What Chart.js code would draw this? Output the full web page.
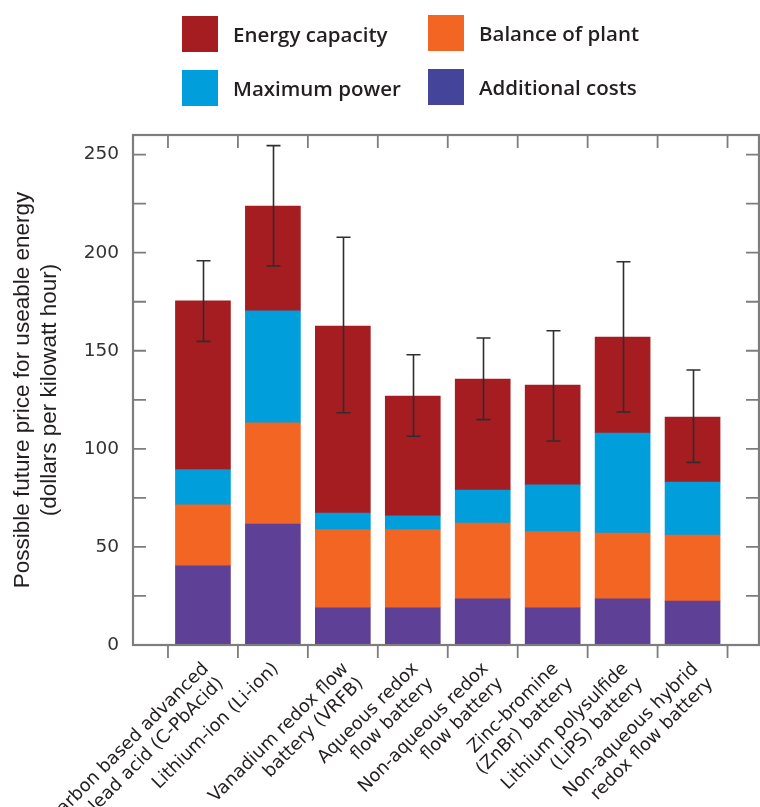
<!DOCTYPE html>
<html lang="en">
<head>
<meta charset="UTF-8" />
<title>Possible future battery prices</title>
<script src="https://cdn.jsdelivr.net/npm/chart.js"></script>
<style>
  body { margin: 0; background: #fff; }
  .wrap { position: relative; width: 760px; height: 807px; }
  canvas { position: absolute; left: 0; top: 0; }
  .legend { position: absolute; left: 0; top: 0; font-family: 'Open Sans', sans-serif; font-weight: 600; font-size: 20.5px; color: #231f20; }
  .item { position: absolute; display: flex; align-items: center; white-space: nowrap; }
  .swatch { width: 36px; height: 36px; margin-right: 15px; }
</style>
</head>
<body>
<div class="wrap">
  <canvas id="priceChart" width="760" height="807"></canvas>
  <div class="legend" id="legend"></div>
</div>

<script>
  // categories (x axis), one array of lines per bar
  const categories = [
    ['Carbon based advanced', 'lead acid (C-PbAcid)'],
    'Lithium-ion (Li-ion)',
    ['Vanadium redox flow', 'battery (VRFB)'],
    ['Aqueous redox', 'flow battery'],
    ['Non-aqueous redox', 'flow battery'],
    ['Zinc-bromine', '(ZnBr) battery'],
    ['Lithium polysulfide', '(LiPS) battery'],
    ['Non-aqueous hybrid', 'redox flow battery']
  ];

  // stacked segments, bottom to top ($ per kWh)
  const additionalCosts = [40.4, 61.7, 18.9, 18.9, 23.5, 18.9, 23.5, 22.4];
  const balanceOfPlant  = [31.0, 51.5, 39.9, 39.9, 38.7, 38.9, 33.6, 33.7];
  const maximumPower    = [18.0, 57.1,  8.5,  7.0, 16.8, 23.8, 51.0, 27.0];
  const energyCapacity  = [86.0, 53.5, 95.3, 61.1, 56.6, 50.9, 48.9, 33.1];

  // error bar range (absolute values)
  const errorLow  = [154.8, 193.2, 118.4, 106.4, 114.9, 104.0, 118.8, 93.1];
  const errorHigh = [195.9, 254.6, 207.9, 148.0, 156.5, 160.2, 195.4, 140.2];

  const yLabelTicks = [0, 50, 100, 150, 200, 250];

  const seriesNames = ['Additional costs', 'Balance of plant', 'Maximum power', 'Energy capacity'];
  const seriesColors = ['#5e4097', '#f26522', '#009edb', '#a51c21'];
  const legendColors = ['#43449a', '#f26522', '#009edb', '#a51c21'];

  // legend is laid out 2x2 like the original
  const legendSlots = [
    { idx: 3, left: 182, top: 16 },
    { idx: 1, left: 428, top: 15 },
    { idx: 2, left: 182, top: 70 },
    { idx: 0, left: 428, top: 69 }
  ];
  const legendEl = document.getElementById('legend');
  legendSlots.forEach(s => {
    const d = document.createElement('div');
    d.className = 'item';
    d.style.left = s.left + 'px';
    d.style.top = s.top + 'px';
    d.innerHTML = '<span class="swatch" style="background:' + legendColors[s.idx] + '"></span><span>' + seriesNames[s.idx] + '</span>';
    legendEl.appendChild(d);
  });

  const toPoints = arr => arr.map((v, i) => ({ x: i, y: v }));
  const allSeries = [additionalCosts, balanceOfPlant, maximumPower, energyCapacity];

  const frameColor = '#7d7d7d';

  // frame box, inward ticks, error bars and the slanted category labels
  const framePlugin = {
    id: 'frame',
    afterDatasetsDraw(chart) {
      const { ctx, chartArea: a, scales: { x, y } } = chart;
      ctx.save();

      // error bars
      ctx.strokeStyle = '#2e2e2e';
      ctx.lineWidth = 1.6;
      errorLow.forEach((lo, i) => {
        const px = Math.round(x.getPixelForValue(i)) + 0.5;
        const yLo = y.getPixelForValue(lo);
        const yHi = y.getPixelForValue(errorHigh[i]);
        ctx.beginPath();
        ctx.moveTo(px, yLo); ctx.lineTo(px, yHi);
        ctx.moveTo(px - 7, yLo); ctx.lineTo(px + 7, yLo);
        ctx.moveTo(px - 7, yHi); ctx.lineTo(px + 7, yHi);
        ctx.stroke();
      });

      // ticks
      ctx.strokeStyle = frameColor;
      ctx.lineWidth = 1.8;
      ctx.beginPath();
      y.ticks.forEach(t => {
        if (t.value === 0) return;
        const py = y.getPixelForValue(t.value);
        ctx.moveTo(a.left, py); ctx.lineTo(a.left + 13, py);
        ctx.moveTo(a.right, py); ctx.lineTo(a.right - 13, py);
      });
      for (let i = 0; i <= categories.length; i++) {
        const px = x.getPixelForValue(i - 0.5);
        ctx.moveTo(px, a.top); ctx.lineTo(px, a.top + 13);
        ctx.moveTo(px, a.bottom); ctx.lineTo(px, a.bottom + 13);
      }
      ctx.stroke();

      // box
      ctx.lineWidth = 2.2;
      ctx.strokeRect(a.left, a.top, a.right - a.left, a.bottom - a.top);

      // category labels, rotated 45deg, right end under the bar centre
      ctx.fillStyle = '#231f20';
      ctx.font = '18px "DejaVu Sans"';
      ctx.textAlign = 'right';
      ctx.textBaseline = 'middle';
      categories.forEach((lab, i) => {
        const lines = Array.isArray(lab) ? lab : [lab];
        ctx.save();
        ctx.translate(x.getPixelForValue(i) + 3, a.bottom + 21);
        ctx.rotate(-Math.PI / 4);
        lines.forEach((ln, k) => ctx.fillText(ln, 0, k * 21));
        ctx.restore();
      });
      ctx.restore();
    }
  };

  new Chart(document.getElementById('priceChart'), {
    type: 'bar',
    data: {
      datasets: allSeries.map((arr, k) => ({
        label: seriesNames[k],
        data: toPoints(arr),
        backgroundColor: seriesColors[k],
        borderWidth: 0,
        barThickness: 55
      }))
    },
    options: {
      responsive: false,
      animation: false,
      layout: { padding: { top: 135, right: 1, left: 0, bottom: 0 } },
      plugins: {
        legend: { display: false },
        tooltip: { enabled: false }
      },
      scales: {
        x: {
          type: 'linear',
          stacked: true,
          min: -1,
          max: 7.95,
          offset: false,
          grid: { display: false, drawTicks: false, offset: false },
          border: { display: false },
          afterBuildTicks: axis => { axis.ticks = categories.map((c, i) => ({ value: i })); },
          afterFit: axis => { axis.height = 162; },
          ticks: { display: false }
        },
        y: {
          stacked: true,
          min: 0,
          max: 260,
          grid: { display: false, drawTicks: false },
          border: { display: false },
          afterBuildTicks: axis => {
            const t = [];
            for (let v = 0; v <= 250; v += 25) t.push({ value: v });
            axis.ticks = t;
          },
          afterFit: axis => { axis.width = 133; },
          ticks: {
            padding: 14,
            color: '#333',
            font: { family: 'DejaVu Sans', size: 18.5 },
            callback: v => yLabelTicks.includes(v) ? String(v) : ''
          },
          title: {
            display: true,
            text: ['Possible future price for useable energy', '(dollars per kilowatt hour)'],
            color: '#231f20',
            font: { family: 'Liberation Sans', size: 22.5, lineHeight: 1.2 },
            padding: { top: 9, bottom: 0 }
          }
        }
      }
    },
    plugins: [framePlugin]
  });
</script>
</body>
</html>
